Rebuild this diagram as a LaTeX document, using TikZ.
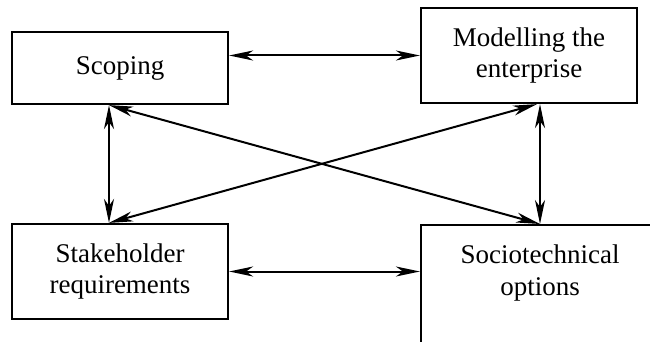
\documentclass[tikz,border=0pt]{standalone}
\usepackage{fontspec}
\setmainfont{Liberation Serif}
\usetikzlibrary{arrows.meta}
\begin{document}
\begin{tikzpicture}[x=1pt,y=-1pt,
  box/.style={draw,line width=2.2pt,inner sep=0pt,align=center,
    font=\fontsize{27}{31.5}\selectfont},
  txt/.style={inner sep=0pt,align=center,font=\fontsize{27}{31.5}\selectfont},
  link/.style={line width=2pt,{Stealth[length=24pt,width=10pt,inset=7pt]}-{Stealth[length=24pt,width=10pt,inset=7pt]}}]
\useasboundingbox (0,0) rectangle (650,342);
\clip (0,0) rectangle (650,342);
\node[box,minimum width=216pt,minimum height=72pt] (scop) at (120,68) {Scoping};
\node[box,minimum width=216pt,minimum height=95pt] (model) at (529,55.5) {Modelling the\\enterprise};
\node[box,minimum width=216pt,minimum height=95pt] (stake) at (120,271.5) {Stakeholder\\requirements};
\node[draw,line width=2.2pt,inner sep=0pt,minimum width=238pt,minimum height=160pt,anchor=north] (soc) at (540,224) {};
\node[txt] (soctxt) at (540,273) {Sociotechnical\\options};
\draw[link] (scop.east |- model.west) -- (model.west);
\draw[link] (stake.east) -- (soc.west |- stake.east);
\draw[link] ([xshift=-11pt]scop.south) -- ([xshift=-11pt]stake.north);
\draw[link] ([xshift=11pt]model.south) -- (soc.north);
\draw[link] ([xshift=-11pt]scop.south) -- (soc.north);
\draw[link] ([xshift=-11pt]stake.north) -- ([xshift=8pt]model.south);
\end{tikzpicture}
\end{document}
